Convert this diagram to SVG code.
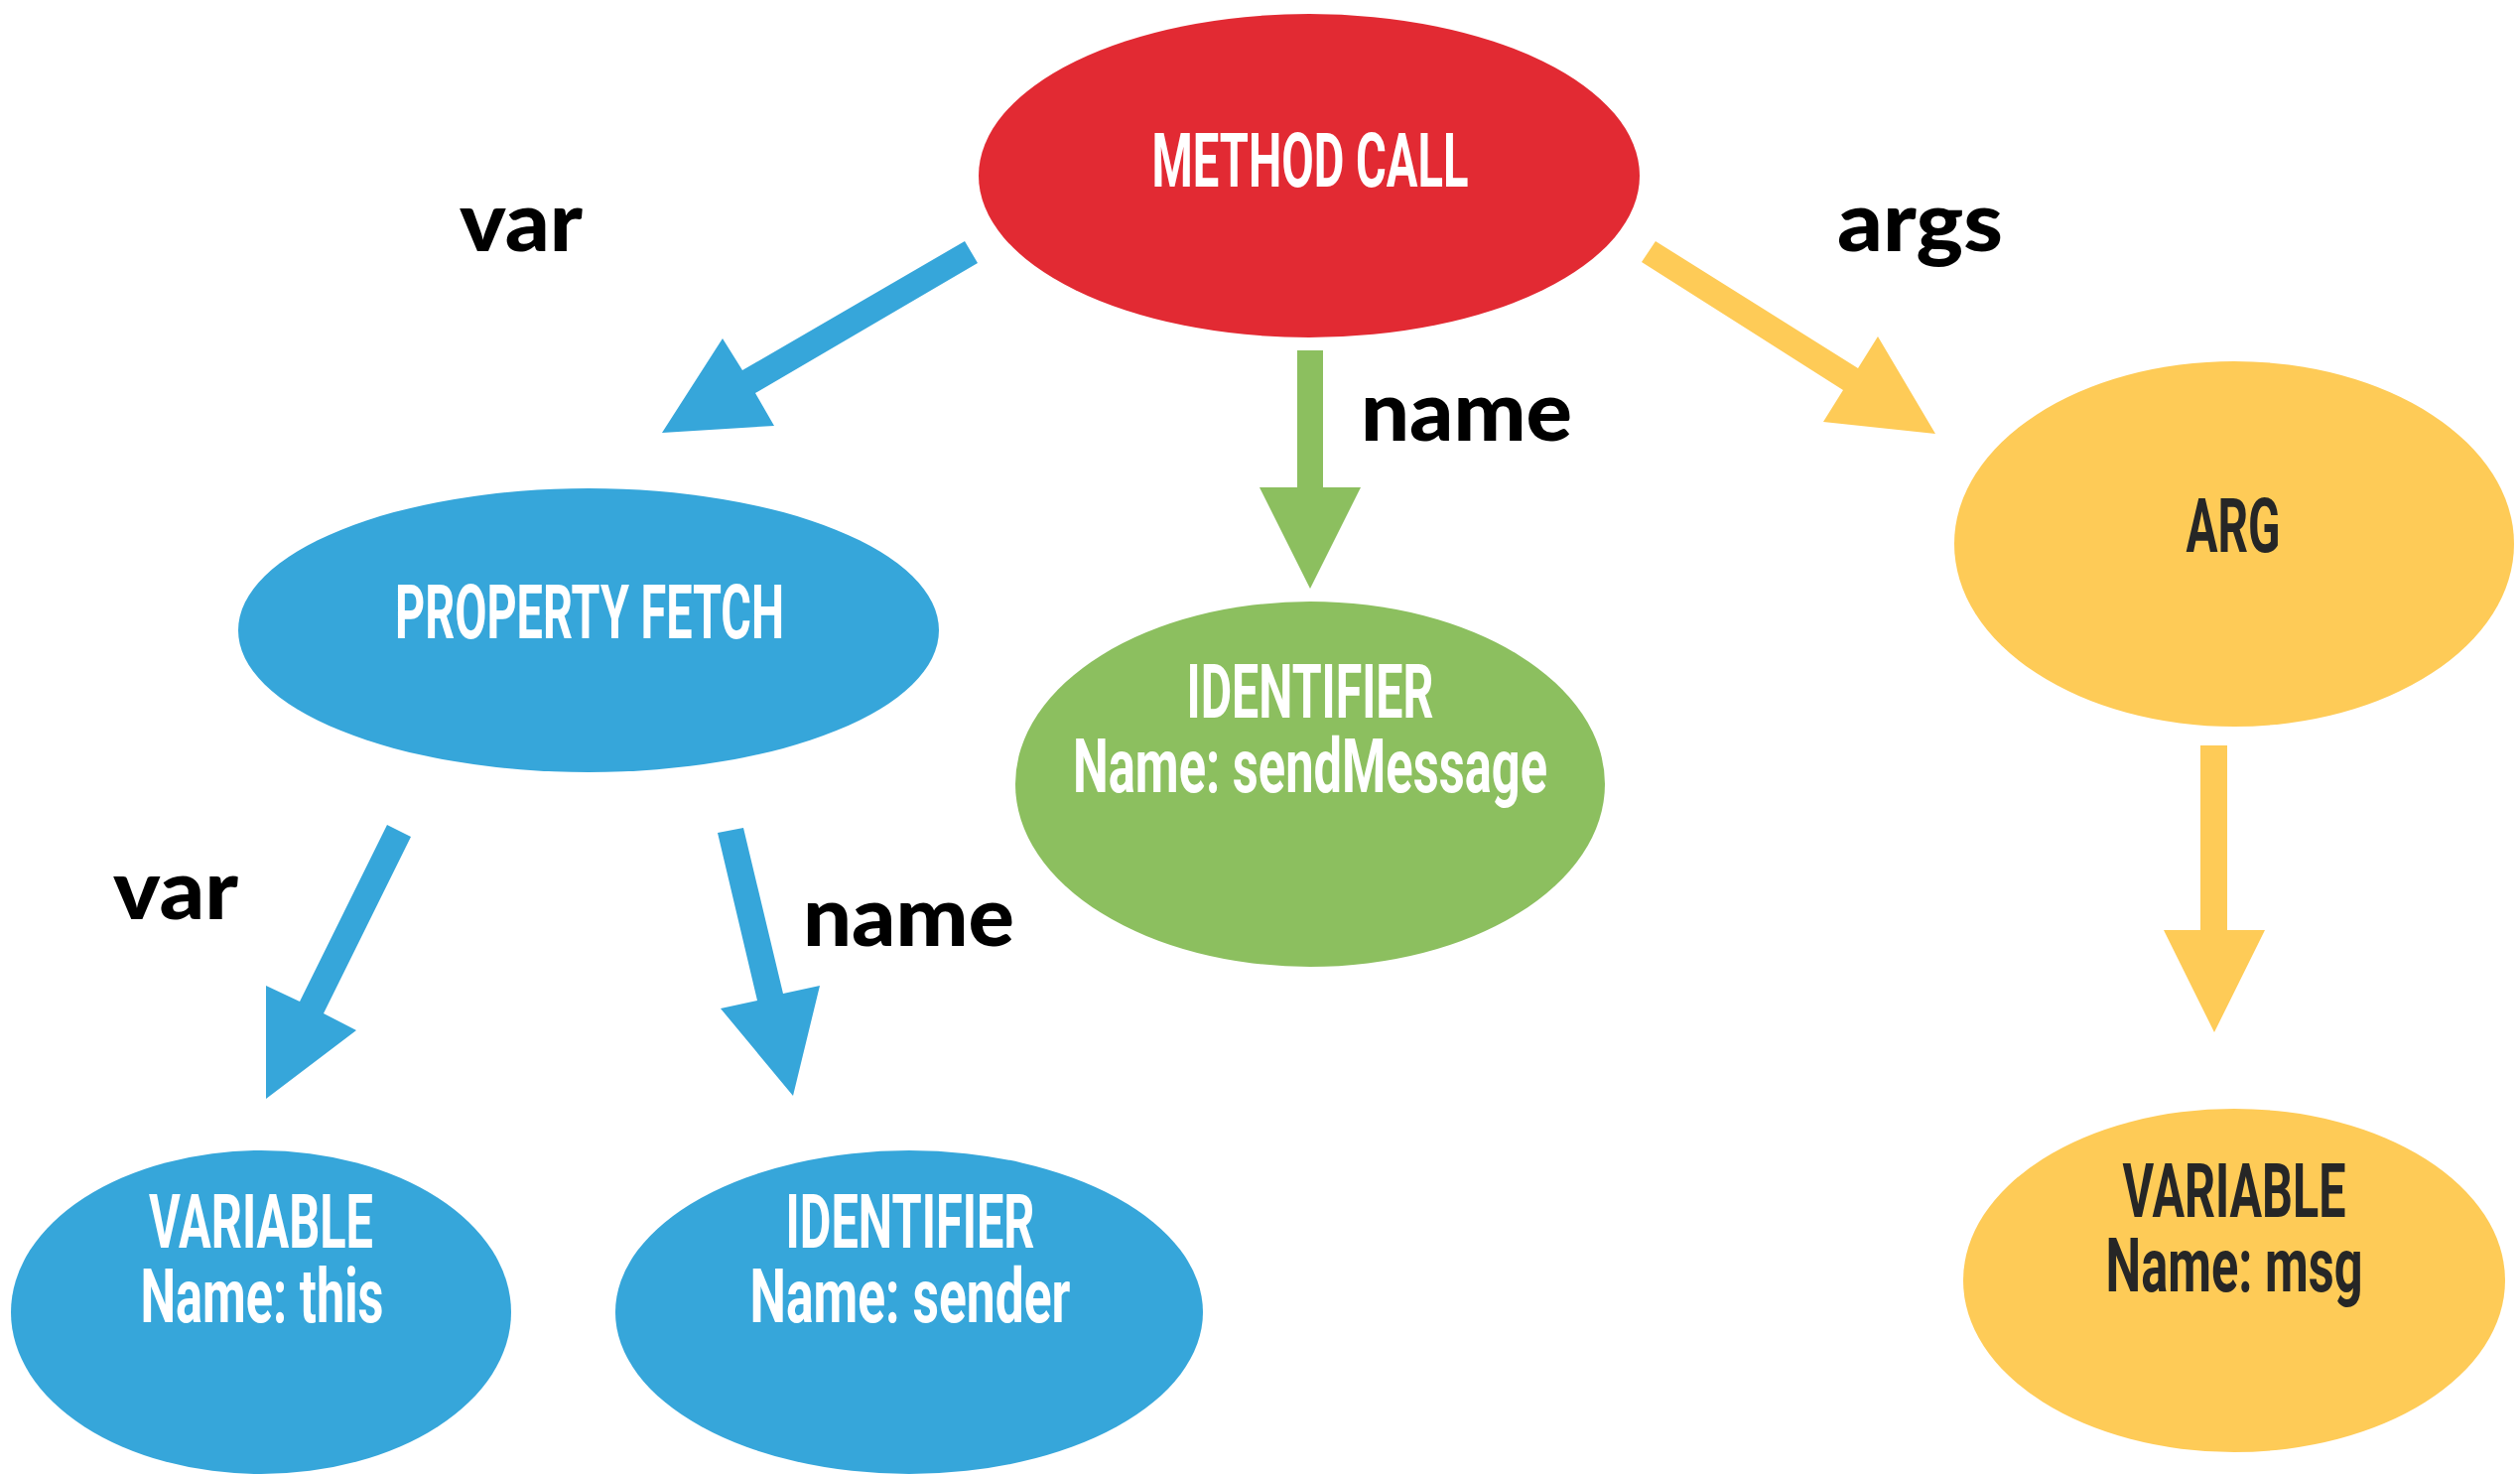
<svg xmlns="http://www.w3.org/2000/svg" width="2539" height="1486" viewBox="0 0 2539 1486">
<style>
.red{fill:#E22A33}
.blue{fill:#36A6DA}
.green{fill:#8CBF5F}
.yellow{fill:#FECB57}
.t{font-family:Roboto,"Liberation Sans",sans-serif;font-weight:700;font-size:76px;text-anchor:middle}
.w{fill:#FFFFFF}
.d{fill:#262626}
.lbl{font-family:Lato,"Liberation Sans",sans-serif;font-weight:900;font-size:84px;fill:#000000}
</style>
<rect width="2539" height="1486" fill="#FFFFFF"/>
<g id="connectors">
<polygon class="blue" points="972,243 985,265 761,396 780,429 667,436 728,341 748,373"/>
<polygon class="green" points="1307,353 1333,353 1333,491 1371,491 1320,593 1269,491 1307,491"/>
<polygon class="yellow" points="1668,243 1654,264 1857,393 1837,425 1950,437 1892,339 1872,371"/>
<polygon class="yellow" points="2217,751 2244,751 2244,937 2282,937 2231,1040 2180,937 2217,937"/>
<polygon class="blue" points="390,831 414,843 326,1021 359,1038 268,1107 268,993 302,1009"/>
<polygon class="blue" points="723,839 749,834 789,1001 826,993 799,1104 726,1016 763,1008"/>
<text class="lbl" x="463" y="253" textLength="124" lengthAdjust="spacingAndGlyphs">var</text>
<text class="lbl" x="1371" y="444" textLength="213" lengthAdjust="spacingAndGlyphs">name</text>
<text class="lbl" x="1851" y="253" textLength="167" lengthAdjust="spacingAndGlyphs">args</text>
<text class="lbl" x="114" y="926" textLength="126" lengthAdjust="spacingAndGlyphs">var</text>
<text class="lbl" x="809" y="953" textLength="213" lengthAdjust="spacingAndGlyphs">name</text>
</g>
<g id="method-call">
<ellipse class="red" cx="1319" cy="177" rx="333" ry="163"/>
<text class="t w" x="1320" y="188" textLength="319" lengthAdjust="spacingAndGlyphs">METHOD CALL</text>
</g>
<g id="property-fetch">
<ellipse class="blue" cx="593" cy="635" rx="353" ry="143"/>
<text class="t w" x="594" y="643" textLength="392" lengthAdjust="spacingAndGlyphs">PROPERTY FETCH</text>
</g>
<g id="identifier-sendmessage">
<ellipse class="green" cx="1320" cy="790" rx="297" ry="184"/>
<text class="t w" x="1320" y="723" textLength="249" lengthAdjust="spacingAndGlyphs">IDENTIFIER</text>
<text class="t w" x="1320" y="798" textLength="478" lengthAdjust="spacingAndGlyphs">Name: sendMessage</text>
</g>
<g id="arg">
<ellipse class="yellow" cx="2251" cy="548" rx="282" ry="184"/>
<text class="t d" x="2250" y="556" textLength="95" lengthAdjust="spacingAndGlyphs">ARG</text>
</g>
<g id="variable-this">
<ellipse class="blue" cx="263" cy="1322" rx="252" ry="163"/>
<text class="t w" x="263" y="1257" textLength="226" lengthAdjust="spacingAndGlyphs">VARIABLE</text>
<text class="t w" x="264" y="1332" textLength="245" lengthAdjust="spacingAndGlyphs">Name: this</text>
</g>
<g id="identifier-sender">
<ellipse class="blue" cx="916" cy="1322" rx="296" ry="163"/>
<text class="t w" x="917" y="1257" textLength="251" lengthAdjust="spacingAndGlyphs">IDENTIFIER</text>
<text class="t w" x="917" y="1332" textLength="323" lengthAdjust="spacingAndGlyphs">Name: sender</text>
</g>
<g id="variable-msg">
<ellipse class="yellow" cx="2251" cy="1290" rx="273" ry="173"/>
<text class="t d" x="2251" y="1226" textLength="225" lengthAdjust="spacingAndGlyphs">VARIABLE</text>
<text class="t d" x="2251" y="1301" textLength="259" lengthAdjust="spacingAndGlyphs">Name: msg</text>
</g>
</svg>
